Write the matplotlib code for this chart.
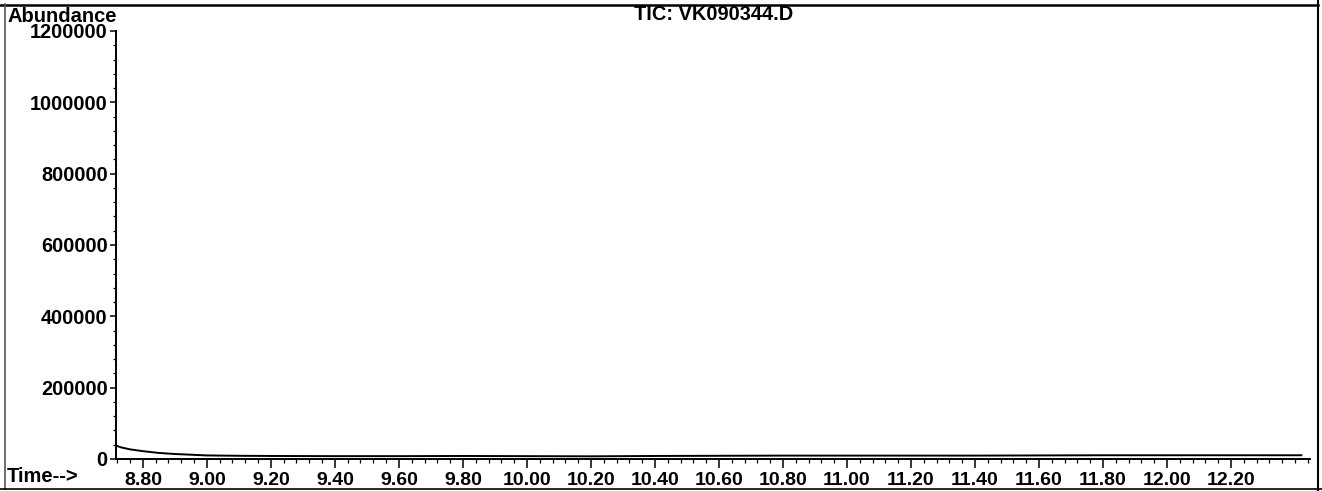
import matplotlib
matplotlib.use("Agg")
import matplotlib.pyplot as plt
from matplotlib.ticker import MultipleLocator, FixedLocator
from matplotlib.lines import Line2D

plt.rcParams['font.family'] = ['Liberation Sans', 'DejaVu Sans']
plt.rcParams['font.weight'] = 'bold'

# Data
time_min = [8.716, 8.73, 8.76, 8.80, 8.85, 8.90, 8.95, 9.00, 9.10, 9.20, 9.40,
            9.60, 9.80, 10.00, 10.20, 10.40, 10.60, 10.80, 11.00, 11.20, 11.40,
            11.60, 11.80, 12.00, 12.20, 12.42]
abundance = [38000, 33000, 27000, 22000, 17000, 14000, 12000, 10000, 9000, 8500,
             8000, 8000, 8500, 8000, 7500, 8500, 9000, 9500, 9500, 9500, 9500,
             10000, 10500, 10500, 10500, 10500]
x_ticks = [8.80, 9.00, 9.20, 9.40, 9.60, 9.80, 10.00, 10.20, 10.40, 10.60, 10.80,
           11.00, 11.20, 11.40, 11.60, 11.80, 12.00, 12.20]
y_ticks = [0, 200000, 400000, 600000, 800000, 1000000, 1200000]
title_text = "TIC: VK090344.D"

W, H = 1322, 491
fig = plt.figure(figsize=(W / 100, H / 100), dpi=100)
fig.patch.set_facecolor('white')

ax_l, ax_r, ax_t, ax_b = 116, 1310, 31, 459
ax = fig.add_axes([ax_l / W, 1 - ax_b / H, (ax_r - ax_l) / W, (ax_b - ax_t) / H])
ax.plot(time_min, abundance, color='black', lw=1.4)

ax.set_xlim(8.716, 12.447)
ax.set_ylim(0, 1200000)
ax.xaxis.set_major_locator(FixedLocator(x_ticks))
ax.xaxis.set_minor_locator(MultipleLocator(0.04))
ax.yaxis.set_major_locator(FixedLocator(y_ticks))
ax.yaxis.set_minor_locator(MultipleLocator(40000))
ax.set_xticklabels([f"{v:.2f}" for v in x_ticks])
ax.set_yticklabels([str(v) for v in y_ticks])

for s in ['top', 'right']:
    ax.spines[s].set_visible(False)
for s in ['left', 'bottom']:
    ax.spines[s].set_linewidth(1.4)
ax.tick_params(axis='x', which='major', length=6.5, width=1.1, pad=3, labelsize=14)
ax.tick_params(axis='x', which='minor', length=3, width=0.9)
ax.tick_params(axis='y', which='major', length=4, width=1.1, pad=2, labelsize=14.3)
ax.tick_params(axis='y', which='minor', length=2.5, width=0.9)
for lab in ax.get_xticklabels() + ax.get_yticklabels():
    lab.set_fontweight('bold')

fig.text(7 / W, 1 - 16 / H, "Abundance", fontsize=14.5, fontweight='bold',
         ha='left', va='center')
fig.text(714 / W, 1 - 15 / H, title_text, fontsize=14.4, fontweight='bold',
         ha='center', va='center')
fig.text(7 / W, 1 - 477 / H, "Time-->", fontsize=14.5, fontweight='bold',
         ha='left', va='center')

# page frame
def fl(x0, y0, x1, y1, lw=1.5, c='black'):
    fig.add_artist(Line2D([x0 / W, x1 / W], [1 - y0 / H, 1 - y1 / H],
                          color=c, lw=lw, transform=fig.transFigure))

fl(0, 4.5, 1318, 4.5, lw=1.8)
fl(5, 4, 5, 489, lw=1.2, c='#555555')
fl(0, 488.5, 1322, 488.5, lw=1.2)
fl(1318, 0, 1318, 491, lw=1.5)

fig.savefig("out.png", dpi=100, facecolor='white')
